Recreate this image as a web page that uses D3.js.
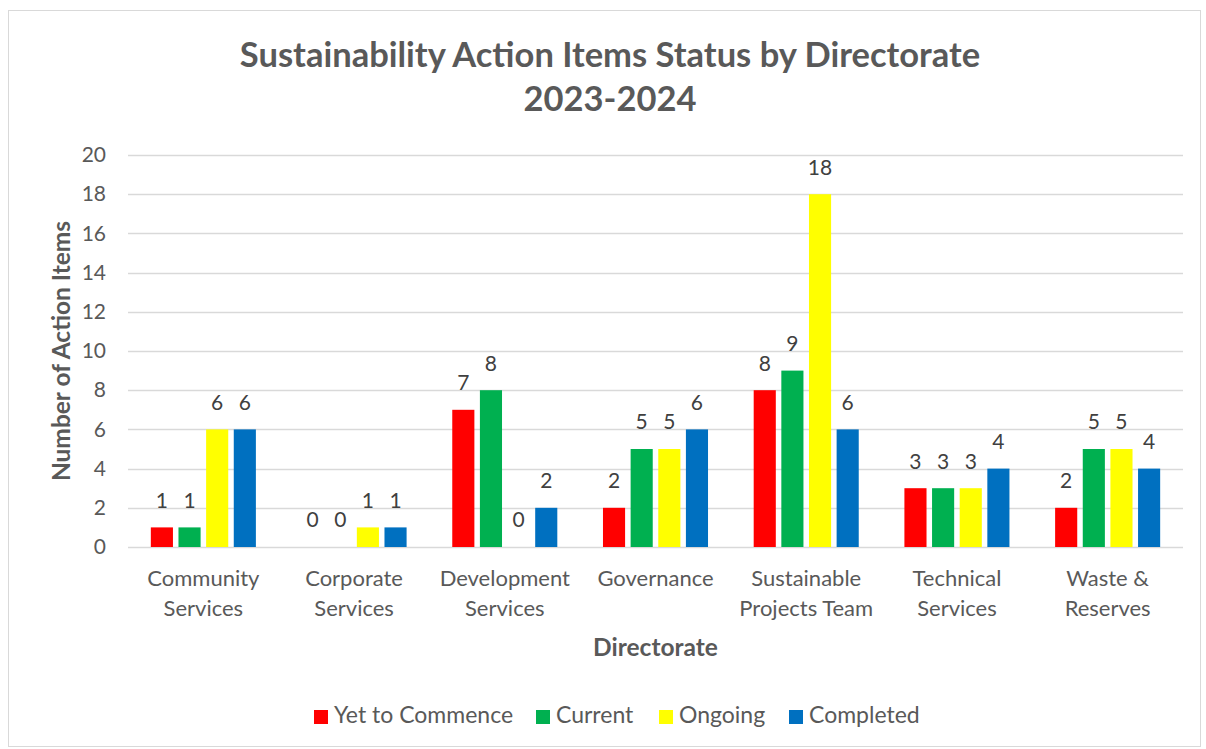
<!DOCTYPE html>
<html>
<head>
<meta charset="utf-8">
<script src="https://cdn.jsdelivr.net/npm/d3@7"></script>
<style>
  body { margin: 0; background: #fff; }
  text { font-family: Lato, "Open Sans", sans-serif; }
</style>
</head>
<body>
<div id="chart"></div>
<script>
var categories = [["Community", "Services"], ["Corporate", "Services"], ["Development", "Services"], ["Governance"], ["Sustainable", "Projects Team"], ["Technical", "Services"], ["Waste &", "Reserves"]];
var seriesNames = ["Yet to Commence", "Current", "Ongoing", "Completed"];
var yetToCommence = [1, 0, 7, 2, 8, 3, 2];
var current = [1, 0, 8, 5, 9, 3, 5];
var ongoing = [6, 1, 0, 5, 18, 3, 5];
var completed = [6, 1, 2, 6, 6, 4, 4];
var yTicks = [0, 2, 4, 6, 8, 10, 12, 14, 16, 18, 20];

var series = [yetToCommence, current, ongoing, completed];
var colors = ["#ff0000", "#00b050", "#ffff00", "#0070c0"];

var W = 1206, H = 749;
var margin = {top: 155, right: 23, bottom: 202, left: 128};
var width = W - margin.left - margin.right,
    height = H - margin.top - margin.bottom;

var svg = d3.select("#chart").append("svg")
    .attr("width", W)
    .attr("height", H);

// chart frame
svg.append("rect")
  .attr("x", 8.5).attr("y", 10.5)
  .attr("width", 1192).attr("height", 736)
  .attr("fill", "#fff")
  .attr("stroke", "#d9d9d9");

var g = svg.append("g")
  .attr("transform", `translate(${margin.left}, ${margin.top})`);

var x = d3.scaleBand()
  .domain(d3.range(categories.length))
  .range([0, width]);

var x1 = d3.scaleBand()
  .domain(d3.range(series.length))
  .range([0, x.bandwidth() * 0.697])
  .paddingInner(0.2);

var groupOffset = (x.bandwidth() - x1.range()[1]) / 2;

var y = d3.scaleLinear()
  .domain([0, 20])
  .range([height, 0]);

// gridlines
g.append("g")
  .selectAll("line")
  .data(yTicks)
  .join("line")
  .attr("x1", 0).attr("x2", width)
  .attr("y1", d => Math.round(y(d)) + 0.5)
  .attr("y2", d => Math.round(y(d)) + 0.5)
  .attr("stroke", "#d9d9d9")
  .attr("stroke-width", 1.5);

// y axis labels
var yAxis = g.append("g")
  .call(d3.axisLeft(y).tickValues(yTicks).tickSize(0).tickPadding(22));
yAxis.select(".domain").remove();
yAxis.selectAll("text")
  .attr("fill", "#595959")
  .style("font-family", "Lato, sans-serif")
  .style("font-size", "21px");

// bars
series.forEach(function(values, si) {
  var grp = g.append("g");
  grp.selectAll("rect")
    .data(values)
    .join("rect")
    .attr("x", (d, i) => x(i) + groupOffset + x1(si))
    .attr("y", d => y(d))
    .attr("width", x1.bandwidth())
    .attr("height", d => height - y(d))
    .attr("fill", colors[si]);

  grp.selectAll("text")
    .data(values)
    .join("text")
    .attr("x", (d, i) => x(i) + groupOffset + x1(si) + x1.bandwidth() / 2)
    .attr("y", d => y(d) - 25)
    .attr("text-anchor", "middle")
    .attr("dominant-baseline", "middle")
    .attr("fill", "#404040")
    .style("font-size", "21px")
    .text(d => d);
});

// x axis category labels
var xl = g.append("g")
  .selectAll("text")
  .data(categories)
  .join("text")
  .attr("text-anchor", "middle")
  .attr("fill", "#595959")
  .style("font-size", "22px")
  .attr("transform", (d, i) => `translate(${x(i) + x.bandwidth() / 2}, ${height + 39})`);
xl.selectAll("tspan")
  .data(d => d)
  .join("tspan")
  .attr("x", 0)
  .attr("dy", (d, i) => i === 0 ? 0 : 30)
  .text(d => d);

// axis titles
svg.append("text")
  .attr("x", margin.left + width / 2)
  .attr("y", 656)
  .attr("text-anchor", "middle")
  .attr("fill", "#595959")
  .style("font-size", "24.5px")
  .style("font-weight", "bold")
  .text("Directorate");

svg.append("text")
  .attr("transform", `translate(70, ${margin.top + height / 2}) rotate(-90)`)
  .attr("text-anchor", "middle")
  .attr("fill", "#595959")
  .style("font-size", "24.5px")
  .style("font-weight", "bold")
  .text("Number of Action Items");

// title
var title = svg.append("text")
  .attr("text-anchor", "middle")
  .attr("fill", "#595959")
  .style("font-size", "34.5px")
  .style("font-weight", "bold");
title.append("tspan").attr("x", 610).attr("y", 67).text("Sustainability Action Items Status by Directorate");
title.append("tspan").attr("x", 610).attr("y", 111).text("2023-2024");

// legend
var legendX = [314, 536, 659, 789];
var legend = svg.append("g")
  .selectAll("g")
  .data(seriesNames)
  .join("g")
  .attr("transform", (d, i) => `translate(${legendX[i]}, 717)`);
legend.append("rect")
  .attr("x", 0).attr("y", -7)
  .attr("width", 14).attr("height", 14)
  .attr("fill", (d, i) => colors[i]);
legend.append("text")
  .attr("x", 20)
  .attr("dominant-baseline", "middle")
  .attr("fill", "#595959")
  .style("font-size", "23px")
  .text(d => d);
</script>
</body>
</html>
